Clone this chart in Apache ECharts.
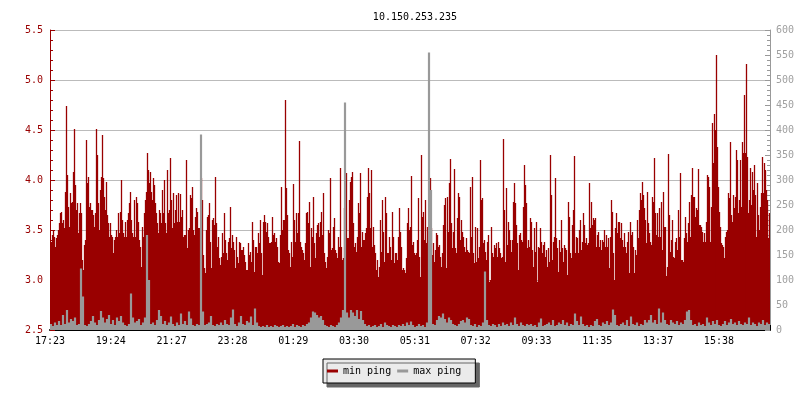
<!DOCTYPE html>
<html><head><meta charset="utf-8">
<script src="https://cdn.jsdelivr.net/npm/echarts@6/dist/echarts.min.js"></script>
<style>html,body{margin:0;padding:0;background:#fff}#c{width:800px;height:400px}</style>
</head><body><div id="c"></div>
<script>
const chartTitle = '10.150.253.235';
const timeLabels = ['17:23','19:24','21:27','23:28','01:29','03:30','05:31','07:32','09:33','11:35','13:37','15:38'];
const seriesNames = ['min ping', 'max ping'];
// min ping (left axis), one sample per 2 minutes
const minPing = [
3.35,3.38,3.45,3.50,3.43,3.33,3.42,3.45,3.50,3.57,
3.67,3.68,3.57,3.60,3.52,3.88,4.74,4.05,3.73,3.53,
3.87,3.77,3.78,4.08,4.51,3.95,3.70,3.77,3.47,3.67,
3.77,3.67,3.20,3.10,3.35,3.40,4.40,3.97,4.03,3.73,
3.77,3.70,3.70,3.65,3.53,3.67,4.51,4.25,3.77,3.50,
3.90,4.03,4.45,4.02,3.83,3.70,3.98,3.65,3.57,3.43,
3.57,3.45,3.43,3.27,3.40,3.43,3.50,3.43,3.67,3.47,
3.68,4.00,3.60,3.47,3.43,3.58,3.43,3.60,3.67,3.77,
3.88,3.60,3.47,3.43,3.80,3.43,3.83,3.77,3.58,3.40,
3.33,3.13,3.53,3.43,3.67,3.80,3.88,4.27,4.10,3.97,
4.08,3.88,3.80,4.02,3.95,3.77,3.67,3.57,3.47,3.70,
3.67,3.57,3.90,3.67,4.00,3.57,3.47,4.10,3.67,3.70,
4.22,3.80,3.52,3.87,3.57,3.70,3.85,3.58,3.87,3.58,
3.86,3.63,3.70,3.43,3.45,3.45,4.20,3.32,3.50,3.52,
3.85,3.82,3.93,3.50,3.45,3.63,3.72,3.68,3.52,3.52,
3.52,4.02,3.80,3.25,3.12,3.07,3.50,3.63,3.65,3.77,
3.38,3.12,3.60,3.62,3.55,4.03,3.57,3.33,3.43,3.22,
3.15,3.23,3.47,3.27,3.67,3.40,3.27,3.20,3.38,3.42,
3.73,3.32,3.45,3.38,3.30,3.12,3.43,3.23,3.17,3.38,
3.37,3.30,3.30,3.33,3.25,3.18,3.10,3.10,3.37,3.25,
3.28,3.18,3.58,3.40,3.08,3.33,3.33,3.27,3.47,3.37,
3.60,3.27,3.05,3.58,3.65,3.58,3.48,3.57,3.43,3.37,
3.37,3.38,3.63,3.45,3.47,3.38,3.42,3.33,3.18,3.17,
3.45,3.93,3.50,3.60,3.60,4.80,3.92,3.65,3.30,3.27,
3.13,3.38,3.23,3.96,3.60,3.38,3.67,3.47,3.67,4.39,
3.38,3.33,3.30,3.27,3.20,3.37,3.67,3.68,3.57,3.78,
3.13,3.52,3.43,3.83,3.37,3.22,3.47,3.55,3.57,3.43,
3.58,3.68,3.45,3.87,3.27,3.18,3.12,3.23,3.50,3.47,
4.02,3.30,3.32,3.53,3.62,3.30,3.27,3.22,3.43,3.33,
4.12,3.33,3.20,3.22,3.72,3.80,4.07,3.42,3.42,3.80,
3.98,4.03,4.08,3.57,3.33,3.37,3.28,3.43,3.77,3.67,
4.07,3.33,3.48,3.40,3.40,3.47,3.52,3.83,4.12,3.87,
3.52,4.10,3.33,3.53,3.35,3.27,3.10,3.20,3.03,3.13,
3.60,3.28,3.80,3.48,3.18,3.83,3.67,3.27,3.27,3.43,
3.33,3.20,3.68,3.43,3.17,3.27,3.27,3.20,3.43,3.72,
3.48,3.33,3.10,3.12,3.10,3.07,3.22,3.57,3.72,3.50,
3.53,4.04,3.35,3.38,3.27,3.25,3.27,3.40,3.82,3.23,
3.03,4.25,3.63,3.68,3.40,3.80,3.37,3.53,3.32,3.32,
4.02,3.52,3.25,3.37,3.18,3.30,3.47,3.45,3.33,3.35,
3.23,3.13,3.27,3.55,3.75,3.82,3.12,3.83,3.48,3.97,
4.21,3.57,3.32,3.48,4.11,3.32,3.27,3.62,3.87,3.83,
3.40,3.60,3.48,3.43,3.33,3.28,3.42,3.30,3.28,3.27,
3.93,3.43,4.03,3.27,3.17,3.53,3.18,3.52,3.22,3.33,
4.20,3.80,3.82,3.37,3.40,3.28,3.20,3.38,3.45,2.98,
3.00,3.53,3.27,3.23,3.35,3.32,3.37,3.23,3.38,3.32,
3.27,3.22,3.23,4.41,3.70,3.18,3.92,3.35,3.58,3.50,
3.40,3.28,3.40,3.78,3.97,3.77,3.55,3.37,3.10,3.45,
3.47,3.40,3.38,3.73,4.15,3.95,3.77,3.32,3.40,3.33,
3.62,3.58,3.30,3.13,3.52,3.28,3.58,2.98,3.33,3.32,
3.52,3.38,3.27,3.35,3.38,3.23,3.30,3.13,3.32,3.18,
4.25,3.85,3.20,3.38,3.43,4.02,3.42,3.32,3.08,3.40,
3.28,3.60,3.32,3.18,3.35,3.32,3.30,3.05,3.78,3.63,
3.27,3.22,3.55,3.70,4.24,3.27,3.43,3.42,3.27,3.50,
3.60,3.30,3.38,3.67,3.55,3.37,3.42,3.35,3.37,3.97,
3.52,3.78,3.55,3.62,3.60,3.62,3.33,3.45,3.48,3.33,
3.40,3.30,3.40,3.38,3.50,3.33,3.45,3.33,3.42,3.12,
3.43,3.80,3.68,3.27,3.00,3.52,3.67,3.47,3.58,3.58,
3.42,3.57,3.40,3.33,3.47,3.33,3.27,3.38,3.48,3.07,
3.58,3.45,3.48,3.33,3.07,3.30,3.25,3.60,3.42,3.70,
3.87,3.80,3.98,3.85,3.72,3.60,3.37,3.88,3.57,3.47,
3.38,3.35,3.83,3.78,4.22,3.67,3.45,3.67,3.43,3.72,
3.43,3.78,3.30,3.88,3.53,3.53,3.04,3.13,4.26,3.65,
3.28,3.40,3.60,3.23,3.22,3.38,3.42,3.30,3.70,3.43,
4.07,3.20,3.20,3.18,3.42,3.63,3.47,3.38,3.57,3.78,
3.43,3.85,4.12,3.83,3.83,3.63,3.72,3.70,4.11,3.55,
3.55,3.53,3.48,3.38,3.47,3.38,3.58,4.05,4.03,3.93,
3.38,3.73,4.57,4.17,4.66,4.50,5.25,4.33,3.93,3.68,
3.53,3.37,3.35,3.33,3.22,3.43,3.48,3.50,3.87,3.82,
4.38,3.65,3.58,3.85,3.72,3.83,4.30,4.20,3.67,3.80,
4.20,3.73,4.38,4.27,4.85,4.27,5.16,4.23,3.67,3.80,
4.12,3.75,4.08,3.90,4.15,3.85,3.43,3.97,3.65,3.50,
3.73,3.87,4.23,3.87,4.17,4.10,3.90,3.80,3.42,3.67
];
// max ping (right axis), one sample per 4 minutes
const maxPing = [
12,8,15,10,18,10,30,12,40,15,
22,18,25,10,12,123,67,10,8,12,
18,28,15,10,20,38,25,15,22,30,
12,20,10,25,18,28,15,10,8,12,
73,25,15,18,22,10,15,25,190,100,
12,15,10,20,40,28,12,18,10,15,
27,12,8,15,10,33,12,18,10,37,
23,10,8,12,10,391,37,10,12,15,
28,10,8,12,10,15,10,20,12,10,
25,41,12,8,15,28,12,10,18,15,
27,10,43,15,8,6,8,6,10,6,
8,6,10,8,6,8,10,6,8,6,
8,12,6,10,8,6,10,8,12,15,
25,37,35,30,25,28,20,10,8,6,
10,8,6,10,15,25,40,455,35,25,
40,35,28,40,22,38,20,12,8,10,
6,8,10,6,8,12,6,15,10,8,
6,10,8,6,10,8,12,8,15,10,
17,10,6,8,12,8,10,6,15,555,
280,12,10,20,28,25,33,22,15,25,
20,12,10,8,12,18,20,15,25,22,
10,8,12,6,10,8,15,117,20,10,
8,12,10,6,12,8,15,10,12,8,
15,10,25,12,8,15,10,8,12,10,
12,8,10,6,15,23,8,10,12,15,
10,20,8,10,15,12,20,10,15,8,
12,10,33,18,10,27,12,8,10,6,
10,8,18,22,10,8,15,12,18,10,
15,41,30,10,8,12,15,10,20,8,
27,12,10,15,8,12,10,20,15,20,
30,15,20,12,43,15,35,20,12,10,
20,15,12,18,10,15,12,20,37,40,
20,10,12,8,15,10,12,8,25,15,
10,18,12,20,10,8,12,18,10,15,
22,12,15,10,18,12,10,15,12,25,
10,15,12,8,15,12,20,10,15,12
];
const labelsEvery = 1 / 11.84; // fraction of the time span between labels

const minIdx = minPing.map((_, i) => i);
const maxIdx = maxPing.map((_, i) => i);
const font = 'DejaVu Sans Mono';
const RED = '#990000', GRAY = '#999999';
const chart = echarts.init(document.getElementById('c'), null, {renderer: 'canvas'});
chart.setOption({
  animation: false,
  backgroundColor: '#fff',
  title: {text: chartTitle, left: 410, top: 7, textAlign: 'center',
    textStyle: {fontFamily: font, fontSize: 10, fontWeight: 'normal', color: '#000'}},
  grid: {left: 50, right: 30, top: 30, bottom: 70},
  legend: {
    data: seriesNames, left: 323, top: 359, orient: 'horizontal',
    icon: 'rect', itemWidth: 11, itemHeight: 3, itemGap: 6,
    padding: [6, 14, 6, 4],
    backgroundColor: '#ebebeb', borderColor: '#000', borderWidth: 1,
    shadowColor: '#666', shadowOffsetX: 4, shadowOffsetY: 4, shadowBlur: 0,
    textStyle: {fontFamily: font, fontSize: 10, color: '#000', lineHeight: 12}
  },
  xAxis: [{
    type: 'category', data: minIdx, show: false, boundaryGap: true
  }, {
    type: 'category', data: maxIdx, show: false, boundaryGap: true
  }, {
    type: 'value', min: 0, max: 1, interval: labelsEvery, position: 'bottom',
    axisLine: {lineStyle: {color: '#000', width: 2}},
    axisTick: {inside: true, length: 5, lineStyle: {color: '#000'}},
    axisLabel: {fontFamily: font, fontSize: 10, color: '#000', margin: 6,
      formatter: v => {
        const k = v / labelsEvery, r = Math.round(k);
        return (Math.abs(k - r) < 0.01 && timeLabels[r]) ? timeLabels[r] : '';
      }},
    splitLine: {show: false}
  }],
  yAxis: [{
    type: 'value', min: 2.5, max: 5.5, interval: 0.5, position: 'left',
    axisLine: {show: true, lineStyle: {color: RED}},
    axisTick: {show: true, inside: true, length: 5, lineStyle: {color: RED}},
    minorTick: {show: true, splitNumber: 5, length: 3, lineStyle: {color: RED}},
    axisLabel: {color: RED, fontFamily: font, fontSize: 10, margin: 7, formatter: v => v.toFixed(1)},
    splitLine: {show: true, lineStyle: {color: '#bbbbbb'}}
  }, {
    type: 'value', min: 0, max: 600, interval: 50, position: 'right',
    axisLine: {show: true, lineStyle: {color: GRAY}},
    axisTick: {show: true, inside: true, length: 5, lineStyle: {color: GRAY}},
    minorTick: {show: true, splitNumber: 5, length: 3, lineStyle: {color: GRAY}},
    axisLabel: {color: '#a0a0a0', fontFamily: font, fontSize: 10, margin: 6},
    splitLine: {show: false}
  }],
  series: [{
    name: seriesNames[0], type: 'bar', xAxisIndex: 0, yAxisIndex: 0, data: minPing,
    barWidth: '130%', clip: true, large: false,
    itemStyle: {color: RED}
  }, {
    name: seriesNames[1], type: 'bar', xAxisIndex: 1, yAxisIndex: 1, data: maxPing,
    barWidth: '110%', clip: true, large: false,
    itemStyle: {color: GRAY}
  }]
});
</script></body></html>
